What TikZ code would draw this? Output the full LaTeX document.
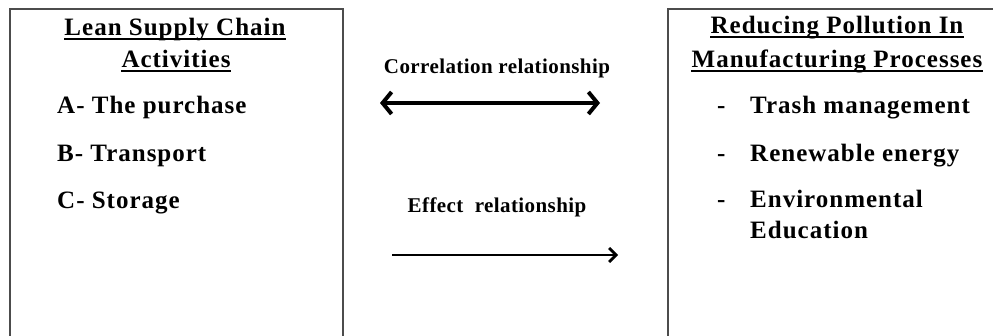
\documentclass[tikz,border=0pt]{standalone}
\usepackage{fontspec}
\setmainfont{Liberation Serif}
\usetikzlibrary{arrows.meta}

\tikzset{
	panel/.style={draw=black!70, line width=1.5pt},
	heading/.style={font=\fontsize{25}{30}\selectfont\bfseries\addfontfeature{LetterSpace=4}, inner sep=0pt, anchor=base},
	item/.style={font=\fontsize{25}{30}\selectfont\bfseries\addfontfeature{LetterSpace=4}, inner sep=0pt, anchor=base west},
	relation/.style={font=\fontsize{21}{25}\selectfont\bfseries\addfontfeature{LetterSpace=2}, inner sep=0pt, anchor=base},
	headline/.style={line width=1.8pt},
	twoway/.style={line width=4pt, {Straight Barb[length=9pt,width=22pt,line width=4pt]}-{Straight Barb[length=9pt,width=22pt,line width=4pt]}},
	oneway/.style={line width=2.6pt, -{Straight Barb[length=7pt,width=14pt,line width=2.8pt]}}
}

\begin{document}
\begin{tikzpicture}[x=1pt,y=-1pt]
	\useasboundingbox (0,0) rectangle (993,335);
	\clip (0,0) rectangle (993,335);
	% the two boxes
	\draw[panel] (10,9) rectangle (343,345);
	\draw[panel] (668,9) rectangle (1005,345);
	% left box
	\node[heading] (lean1) at (175,35) {Lean Supply Chain};
	\node[heading] (lean2) at (176,67) {Activities};
	\draw[headline] ([yshift=-4pt]lean1.base west) -- ([yshift=-4pt]lean1.base east);
	\draw[headline] ([yshift=-4pt]lean2.base west) -- ([yshift=-4pt]lean2.base east);
	\node[item] (buy) at (57,113) {A- The purchase};
	\node[item] (move) at (57,161) {B- Transport};
	\node[item] (store) at (57,208) {C- Storage};
	% right box
	\node[heading] (pol1) at (837,33) {Reducing Pollution In};
	\node[heading] (pol2) at (837,67) {Manufacturing Processes};
	\draw[headline] ([yshift=-4pt]pol1.base west) -- ([yshift=-4pt]pol1.base east);
	\draw[headline] ([yshift=-4pt]pol2.base west) -- ([yshift=-4pt]pol2.base east);
	\node[item] (dash1) at (717,113) {-};
	\node[item] (dash2) at (717,161) {-};
	\node[item] (dash3) at (717,207) {-};
	\node[item] (trash) at (750,113) {Trash management};
	\node[item] (energy) at (750,161) {Renewable energy};
	\node[item] (envir) at (750,207) {Environmental};
	\node[item] (educ) at (750,238) {Education};
	% relations
	\node[relation] (corr) at (497,73) {Correlation relationship};
	\node[relation] (effect) at (497,212) {Effect\ \ relationship};
	\coordinate (corrL) at (380,103);
	\coordinate (corrR) at (600,103);
	\coordinate (effL) at (392,255);
	\coordinate (effR) at (618,255);
	\draw[twoway] (corrL) -- (corrR);
	\draw[oneway] (effL) -- (effR);
\end{tikzpicture}
\end{document}
